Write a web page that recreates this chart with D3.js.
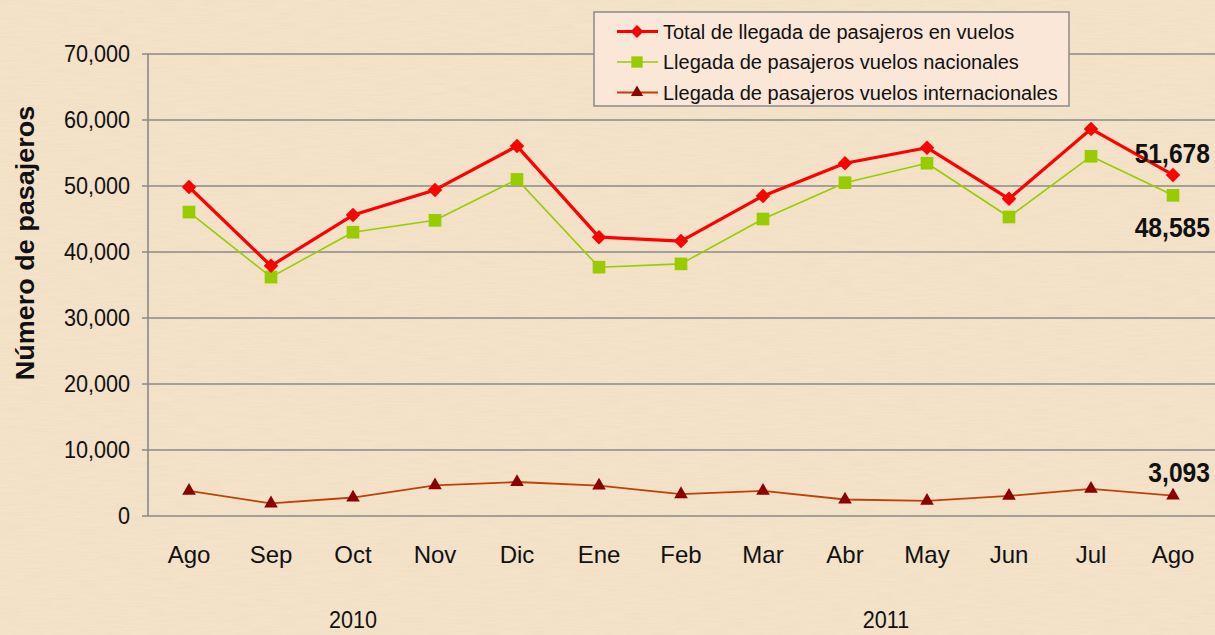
<!DOCTYPE html>
<html>
<head>
<meta charset="utf-8">
<script src="https://cdn.jsdelivr.net/npm/d3@7"></script>
<style>
    html, body { margin: 0; padding: 0; background: #f3e1c8; }
    svg { display: block; font-family: "Liberation Sans", Arial, sans-serif; }
</style>
</head>
<body>
<svg id="chart" width="1215" height="635"></svg>
<script>
var months = ["Ago", "Sep", "Oct", "Nov", "Dic", "Ene", "Feb", "Mar", "Abr", "May", "Jun", "Jul", "Ago"];
var totalVuelos = [49850, 37900, 45600, 49400, 56050, 42250, 41650, 48500, 53450, 55800, 48050, 58650, 51678];
var nacionales = [46050, 36200, 43000, 44800, 51000, 37700, 38200, 45000, 50500, 53450, 45300, 54500, 48585];
var internacionales = [3800, 1900, 2800, 4650, 5150, 4600, 3300, 3800, 2500, 2300, 3050, 4100, 3093];
var yTicks = [0, 10000, 20000, 30000, 40000, 50000, 60000, 70000];
var years = [{ label: "2010", at: 2 }, { label: "2011", at: 8.5 }];

var svg = d3.select("#chart");
var W = 1215, H = 635;
var margin = { left: 148, top: 54, right: 1, bottom: 119 };

// fondo tipo papel
var defs = svg.append("defs");
var f = defs.append("filter").attr("id", "paper").attr("x", 0).attr("y", 0).attr("width", 1).attr("height", 1);
f.append("feTurbulence").attr("type", "fractalNoise").attr("baseFrequency", "0.04 0.6").attr("numOctaves", 3).attr("seed", 4).attr("result", "n");
f.append("feColorMatrix").attr("type", "matrix")
    .attr("values", "0 0 0 0 0.55  0 0 0 0 0.45  0 0 0 0 0.35  0 0 0 -1.1 0.75");
svg.append("rect").attr("width", W).attr("height", H).attr("fill", "#f4e2c9");
svg.append("rect").attr("width", W).attr("height", H).attr("filter", "url(#paper)").attr("opacity", 0.14);

var x = d3.scalePoint()
    .domain(d3.range(months.length))
    .range([margin.left, W - margin.right])
    .padding(0.5);

var y = d3.scaleLinear()
    .domain([0, 70000])
    .range([H - margin.bottom, margin.top]);

// rejilla
svg.append("g").selectAll("line")
    .data(yTicks)
    .enter().append("line")
    .attr("x1", margin.left - 6)
    .attr("x2", W)
    .attr("y1", function (d) { return y(d); })
    .attr("y2", function (d) { return y(d); })
    .attr("stroke", "#8a8a8a")
    .attr("stroke-width", 1.6);

svg.append("line")
    .attr("x1", margin.left).attr("x2", margin.left)
    .attr("y1", y(70000)).attr("y2", y(0))
    .attr("stroke", "#8a8a8a").attr("stroke-width", 1.6);

// etiquetas eje y
var fmt = d3.format(",");
svg.append("g").selectAll("text")
    .data(yTicks)
    .enter().append("text")
    .attr("transform", function (d) { return "translate(" + (margin.left - 18) + "," + (y(d) + 8) + ") scale(0.94,1)"; })
    .attr("text-anchor", "end")
    .attr("font-size", 23)
    .attr("fill", "#111")
    .text(function (d) { return fmt(d); });

svg.append("text")
    .attr("transform", "translate(34,243) rotate(-90) scale(1.08,1)")
    .attr("text-anchor", "middle")
    .attr("font-size", 25)
    .attr("font-weight", "bold")
    .attr("fill", "#111")
    .text("Número de pasajeros");

// meses
svg.append("g").selectAll("text")
    .data(months)
    .enter().append("text")
    .attr("x", function (d, i) { return x(i); })
    .attr("y", 563)
    .attr("text-anchor", "middle")
    .attr("font-size", 24)
    .attr("fill", "#111")
    .text(function (d) { return d; });

svg.append("g").selectAll("text")
    .data(years)
    .enter().append("text")
    .attr("transform", function (d) {
        var cx = x(Math.floor(d.at)) + (d.at % 1) * x.step();
        return "translate(" + cx + ",628) scale(0.9,1)";
    })
    .attr("text-anchor", "middle")
    .attr("font-size", 24)
    .attr("fill", "#111")
    .text(function (d) { return d.label; });

// series
var series = [
    { name: "Total de llegada de pasajeros en vuelos", values: totalVuelos, line: "#ff0000", width: 3.2, marker: d3.symbolSquare, mcolor: "#ff0000", msize: 105, rot: 45 },
    { name: "Llegada de pasajeros vuelos nacionales", values: nacionales, line: "#99cc00", width: 1.6, marker: d3.symbolSquare, mcolor: "#99cc00", msize: 160, rot: 0 },
    { name: "Llegada de pasajeros vuelos internacionales", values: internacionales, line: "#c0400a", width: 1.8, marker: d3.symbolTriangle, mcolor: "#8b0000", msize: 80, rot: 0 }
];

var line = d3.line()
    .x(function (d, i) { return x(i); })
    .y(function (d) { return y(d); });

series.slice().reverse().forEach(function (s) {
    var g = svg.append("g");
    g.append("path")
        .attr("d", line(s.values))
        .attr("fill", "none")
        .attr("stroke", s.line)
        .attr("stroke-width", s.width)
        .attr("stroke-linejoin", "round");
    g.selectAll("path.m")
        .data(s.values)
        .enter().append("path")
        .attr("class", "m")
        .attr("d", d3.symbol().type(s.marker).size(s.msize))
        .attr("transform", function (d, i) {
            return "translate(" + x(i) + "," + y(d) + ") rotate(" + s.rot + ")";
        })
        .attr("fill", s.mcolor);
});

// valores del ultimo mes
var last = months.length - 1;
var labels = [
    { v: totalVuelos[last], dy: -12 },
    { v: nacionales[last], dy: 42 },
    { v: internacionales[last], dy: -14 }
];
svg.append("g").selectAll("text")
    .data(labels)
    .enter().append("text")
    .attr("transform", function (d) { return "translate(" + (W - 5) + "," + (y(d.v) + d.dy) + ") scale(0.88,1)"; })
    .attr("text-anchor", "end")
    .attr("font-size", 28)
    .attr("font-weight", "bold")
    .attr("fill", "#111")
    .text(function (d) { return fmt(d.v); });

// leyenda
var lg = svg.append("g").attr("transform", "translate(594,12)");
lg.append("rect")
    .attr("width", 475).attr("height", 94)
    .attr("fill", "#fbe7d8")
    .attr("stroke", "#8a8a8a").attr("stroke-width", 1.5);
var item = lg.selectAll("g.item")
    .data(series)
    .enter().append("g")
    .attr("class", "item")
    .attr("transform", function (d, i) { return "translate(0," + (19.5 + i * 30.5) + ")"; });
item.append("line")
    .attr("x1", 23).attr("x2", 64)
    .attr("stroke", function (d) { return d.line; })
    .attr("stroke-width", function (d) { return d.width; });
item.append("path")
    .attr("d", function (d) { return d3.symbol().type(d.marker).size(d.msize * 0.8)(); })
    .attr("transform", function (d) { return "translate(43,0) rotate(" + d.rot + ")"; })
    .attr("fill", function (d) { return d.mcolor; });
item.append("text")
    .attr("x", 69)
    .attr("dy", "0.35em")
    .attr("font-size", 20)
    .attr("fill", "#111")
    .text(function (d) { return d.name; });
</script>
</body>
</html>
